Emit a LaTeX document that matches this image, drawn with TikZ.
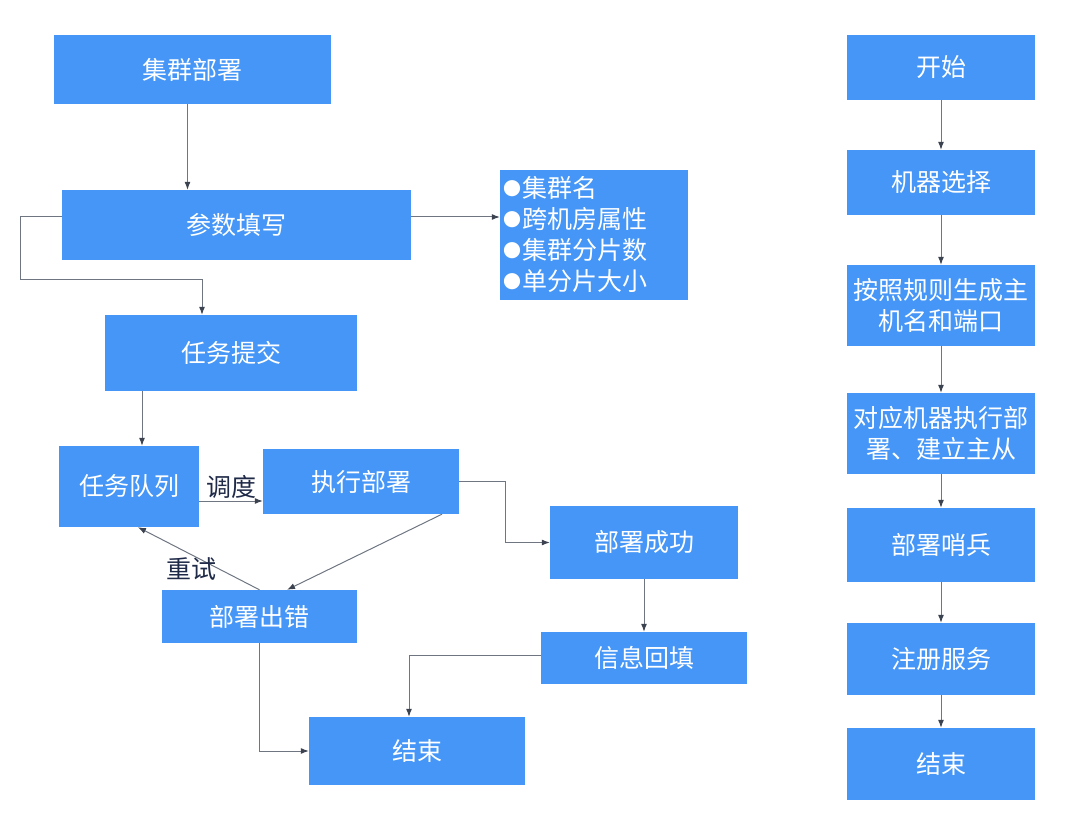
\documentclass[tikz,border=0pt]{standalone}
\usepackage{fontspec}
\newfontfamily\cjk{Noto Sans CJK SC}
\usetikzlibrary{arrows.meta}
\definecolor{boxblue}{HTML}{4596F7}
\definecolor{linegray}{HTML}{6F7681}
\definecolor{tipgray}{HTML}{3C4350}
\definecolor{labelnavy}{HTML}{1F2A48}
\newcommand{\blt}{\makebox[19pt][l]{\raisebox{2.5pt}{\fontsize{18}{18}\selectfont ●}}}
\tikzset{
box/.style={fill=boxblue,text=white,inner sep=0pt,align=center,font=\cjk\fontsize{25}{31}\selectfont},
arr/.style={draw=linegray,line width=1pt,-{Latex[length=8pt,width=6pt,color=tipgray]}},
lbl/.style={text=labelnavy,font=\cjk\fontsize{25}{30}\selectfont},
}
\begin{document}
\begin{tikzpicture}[x=1pt,y=-1pt]
\useasboundingbox(0,0)rectangle(1080,826);
% left flow
\node[box,minimum width=277pt,minimum height=69pt](dep)at(192.5,69.5){集群部署};
\node[box,minimum width=349pt,minimum height=70pt](param)at(236.5,225){参数填写};
\node[box,minimum width=188pt,minimum height=130pt,text width=182pt,align=left](attrs)at(594,235){\blt 集群名\\\blt 跨机房属性\\\blt 集群分片数\\\blt 单分片大小};
\node[box,minimum width=252pt,minimum height=76pt](submit)at(231,353){任务提交};
\node[box,minimum width=140pt,minimum height=81pt](queue)at(129,486.5){任务队列};
\node[box,minimum width=196pt,minimum height=65pt](exec)at(361,481.5){执行部署};
\node[box,minimum width=188pt,minimum height=73pt](succ)at(644,542.5){部署成功};
\node[box,minimum width=195pt,minimum height=53pt](fail)at(259.5,616.5){部署出错};
\node[box,minimum width=206pt,minimum height=52pt](fill)at(644,658){信息回填};
\node[box,minimum width=216pt,minimum height=68pt](endL)at(417,751){结束};
\coordinate(loop)at(20,280);
\draw[arr]([xshift=-5pt]dep.south)--([xshift=-5pt]dep.south|-param.north);
\draw[arr]([yshift=8pt]param.east)--([yshift=8pt]param.east-|attrs.west);
\draw[arr]([yshift=8pt]param.west)-|(loop)-|([xshift=-29pt]submit.north);
\draw[arr]([xshift=13pt]queue.north|-submit.south)--([xshift=13pt]queue.north);
\draw[arr]([yshift=-14.5pt]queue.east)--([yshift=-14.5pt]queue.east-|exec.west)node[lbl,pos=0.5,above=-1pt](sched){调度};
\draw[arr](exec.east)--++(46pt,0)|-(succ.west);
\draw[arr]([xshift=81pt]exec.south)--([xshift=27.5pt]fail.north);
\draw[arr](fail.north)--([xshift=9pt]queue.south)node[lbl,pos=0.5,xshift=-7pt,yshift=-11pt](retry){重试};
\draw[arr](succ.south)--(fill.north);
\draw[arr]([yshift=3pt]fill.west)-|([xshift=-8pt]endL.north);
\draw[arr](fail.south)|-(endL.west);
% right flow
\node[box,minimum width=188pt,minimum height=65pt](start)at(941,67.5){开始};
\node[box,minimum width=188pt,minimum height=65pt](select)at(941,182.5){机器选择};
\node[box,minimum width=188pt,minimum height=81pt](gen)at(941,305.5){按照规则生成主\\机名和端口};
\node[box,minimum width=188pt,minimum height=81pt](run)at(941,433.5){对应机器执行部\\署、建立主从};
\node[box,minimum width=188pt,minimum height=74pt](sentinel)at(941,545){部署哨兵};
\node[box,minimum width=188pt,minimum height=72pt](reg)at(941,659){注册服务};
\node[box,minimum width=188pt,minimum height=72pt](endR)at(941,764){结束};
\draw[arr](start)--(select);
\draw[arr](select)--(gen);
\draw[arr](gen)--(run);
\draw[arr](run)--(sentinel);
\draw[arr](sentinel)--(reg);
\draw[arr](reg)--(endR);
\end{tikzpicture}
\end{document}
